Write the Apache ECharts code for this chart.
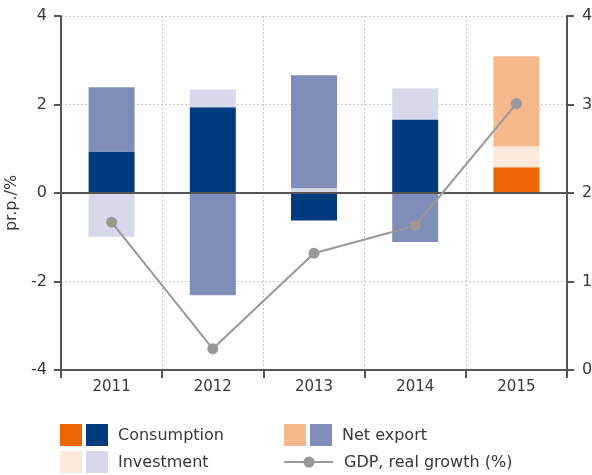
<!DOCTYPE html>
<html>
<head>
<meta charset="utf-8">
<script src="https://cdn.jsdelivr.net/npm/echarts@6/dist/echarts.min.js"></script>
<style>
  html, body { margin: 0; padding: 0; background: #fff; }
  #chart { width: 592px; height: 475px; }
</style>
</head>
<body>
<div id="chart"></div>
<script>
// contributions to GDP growth, pr.p.
var years = ['2011', '2012', '2013', '2014', '2015'];
var consumption = [0.94, 1.94, -0.62, 1.66, 0.58];
var investment = [-0.99, 0.40, 0.11, 0.70, 0.47];
var netExport = [1.45, -2.31, 2.55, -1.11, 2.04];
var gdpGrowth = [1.67, 0.24, 1.32, 1.63, 3.01];

var leftTicks = { min: -4, max: 4, interval: 2 };
var rightTicks = { min: 0, max: 4, interval: 1 };

// blue shades for 2011-2014, orange shades for 2015 (forecast)
var colConsumption = ['#003c7d', '#ec6608'];
var colInvestment = ['#d7d9ea', '#fde9db'];
var colNetExport = ['#7f8db8', '#f7b98b'];
var colGdp = '#999999';

var font = 'DejaVu Sans';
var textCol = '#383838';
var axisCol = '#555';

function colored(values, cols) {
	return values.map(function (v, i) {
		return { value: v, itemStyle: { color: years[i] === '2015' ? cols[1] : cols[0] } };
	});
}

var myChart = echarts.init(document.getElementById('chart'));

function barSeries(name, values, cols) {
	return {
		name: name,
		type: 'bar',
		stack: 'contrib',
		barWidth: 46,
		itemStyle: { color: cols[0] },
		data: colored(values, cols)
	};
}

var netSeries = barSeries('Net export', netExport, colNetExport);
netSeries.markLine = {
	silent: true,
	symbol: ['none', 'none'],
	label: { show: false },
	lineStyle: { color: axisCol, width: 2, type: 'solid' },
	data: [{ yAxis: 0 }]
};

// legend drawn by hand: two swatches per entry
var sw = 22;
var legendRows = [
	{ x: 60, y: 424, cols: colConsumption, text: 'Consumption' },
	{ x: 60, y: 451, cols: colInvestment, text: 'Investment' },
	{ x: 284, y: 424, cols: colNetExport, text: 'Net export' }
];
var graphics = [];
legendRows.forEach(function (r) {
	graphics.push({ type: 'rect', left: r.x, top: r.y, shape: { width: sw, height: sw }, style: { fill: r.cols[1] } });
	graphics.push({ type: 'rect', left: r.x + 26, top: r.y, shape: { width: sw, height: sw }, style: { fill: r.cols[0] } });
	graphics.push({ type: 'text', left: r.x + 58, top: r.y + 4,
		style: { text: r.text, fill: textCol, font: '16px "' + font + '"' } });
});
graphics.push({ type: 'line', shape: { x1: 284, y1: 462, x2: 333, y2: 462 }, style: { stroke: colGdp, lineWidth: 2 } });
graphics.push({ type: 'circle', shape: { cx: 309, cy: 462, r: 5.5 }, style: { fill: colGdp } });
graphics.push({ type: 'text', left: 344, top: 455,
	style: { text: 'GDP, real growth (%)', fill: textCol, font: '16px "' + font + '"' } });

var option = {
	animation: false,
	backgroundColor: '#fff',
	textStyle: { fontFamily: font, color: textCol },
	grid: { left: 61, right: 25, top: 16, bottom: 105, containLabel: false, outerBoundsMode: 'none' },
	xAxis: {
		type: 'category',
		data: years,
		boundaryGap: true,
		axisLine: { onZero: false, lineStyle: { color: axisCol, width: 2 } },
		axisTick: { show: true, length: 8, lineStyle: { color: axisCol, width: 2 } },
		axisLabel: { color: textCol, fontSize: 15, margin: 10, fontFamily: font },
		splitLine: { show: true, lineStyle: { color: '#c8c8c8', type: [2, 2], width: 1 } }
	},
	yAxis: [
		{
			type: 'value',
			min: leftTicks.min,
			max: leftTicks.max,
			interval: leftTicks.interval,
			name: 'pr.p./%',
			nameLocation: 'middle',
			nameGap: 34,
			nameTextStyle: { color: textCol, fontSize: 16, fontFamily: font, padding: [0, 0, 0, -20] },
			axisLine: { show: true, lineStyle: { color: axisCol, width: 2 } },
			axisTick: { show: true, length: 7, lineStyle: { color: axisCol, width: 2 } },
			axisLabel: { color: textCol, fontSize: 16, margin: 14, fontFamily: font },
			splitLine: { show: true, lineStyle: { color: '#c8c8c8', type: [2, 2], width: 1 } }
		},
		{
			type: 'value',
			min: rightTicks.min,
			max: rightTicks.max,
			interval: rightTicks.interval,
			position: 'right',
			axisLine: { show: true, lineStyle: { color: axisCol, width: 2 } },
			axisTick: { show: true, length: 7, lineStyle: { color: axisCol, width: 2 } },
			axisLabel: { color: textCol, fontSize: 16, margin: 15, fontFamily: font },
			splitLine: { show: false }
		}
	],
	series: [
		barSeries('Consumption', consumption, colConsumption),
		barSeries('Investment', investment, colInvestment),
		netSeries,
		{
			name: 'GDP, real growth (%)',
			type: 'line',
			yAxisIndex: 1,
			data: gdpGrowth,
			symbol: 'circle',
			symbolSize: 11,
			z: 5,
			itemStyle: { color: colGdp },
			lineStyle: { color: colGdp, width: 2 }
		}
	],
	graphic: graphics
};

myChart.setOption(option);
</script>
</body>
</html>
